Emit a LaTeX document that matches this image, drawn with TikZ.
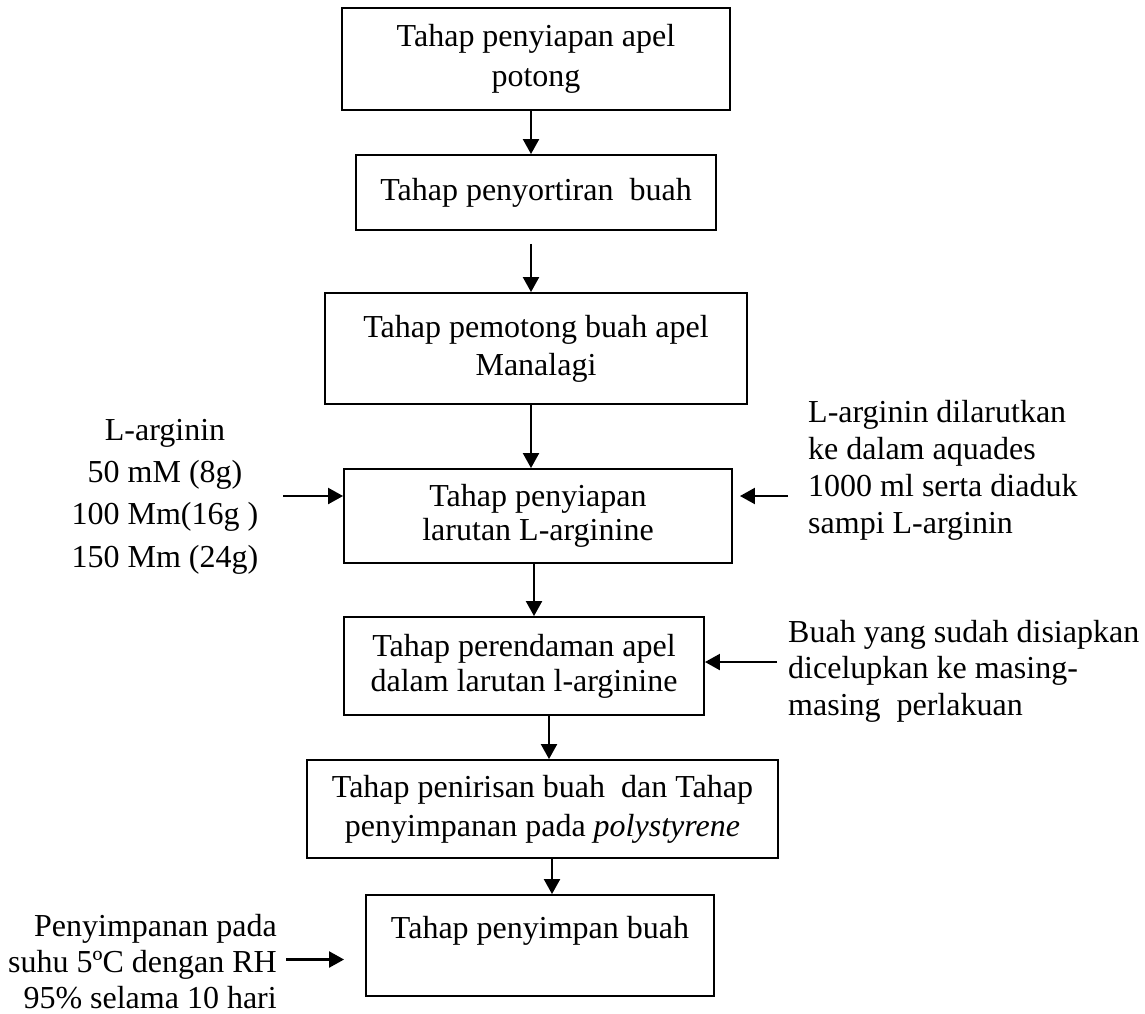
\documentclass[tikz,border=0pt]{standalone}
\usepackage{fontspec}
\setmainfont{Liberation Serif}
\usetikzlibrary{arrows.meta}
\begin{document}
\begin{tikzpicture}[x=1pt,y=-1pt,
  box/.style={draw,line width=1.9pt,inner sep=0pt,align=center},
  arr/.style={line width=2.2pt,-{Triangle[length=15pt,width=16pt]}},
  lbl/.style={inner sep=0pt}]
\useasboundingbox (0,0) rectangle (1145,1013);
% boxes
\node[box,minimum width=388pt,minimum height=102pt,font=\fontsize{32}{40}\selectfont] (b1) at (536,59) {Tahap penyiapan apel\\potong};
\node[box,minimum width=360pt,minimum height=75pt,font=\fontsize{32}{38}\selectfont] (b2) at (536,192.5) {Tahap penyortiran~ buah};
\node[box,minimum width=422pt,minimum height=111pt,font=\fontsize{32}{38}\selectfont] (b3) at (536,348.5) {Tahap pemotong buah apel\\Manalagi};
\node[box,minimum width=388pt,minimum height=94pt,font=\fontsize{32}{34}\selectfont] (b4) at (538,516) {Tahap penyiapan\\larutan L-arginine};
\node[box,minimum width=360pt,minimum height=98pt,font=\fontsize{32}{35}\selectfont] (b5) at (524,666) {Tahap perendaman apel\\dalam larutan l-arginine};
\node[box,minimum width=471pt,minimum height=98pt,font=\fontsize{32}{39}\selectfont] (b6) at (542.5,809) {Tahap penirisan buah~ dan Tahap\\penyimpanan pada \textit{polystyrene}};
\node[box,minimum width=348pt,minimum height=101pt,font=\fontsize{32}{37}\selectfont] (b7) at (540,945.5) {Tahap penyimpan buah\\~};
% side texts (base anchor = last line baseline)
\node[lbl,anchor=base,align=center,font=\fontsize{32}{42.3}\selectfont] (l1) at (165,567) {L-arginin\\50 mM (8g)\\100 Mm(16g )\\150 Mm (24g)};
\node[lbl,anchor=base west,align=left,font=\fontsize{32}{36.7}\selectfont] (r1) at (808,533) {L-arginin dilarutkan\\ke dalam aquades\\1000 ml serta diaduk\\sampi L-arginin};
\node[lbl,anchor=base west,align=left,font=\fontsize{32}{36.5}\selectfont] (r2) at (788,715) {Buah yang sudah disiapkan\\dicelupkan ke masing-\\masing~ perlakuan};
\node[lbl,anchor=base east,align=right,font=\fontsize{32}{35.7}\selectfont] (l2) at (277,1008) {Penyimpanan pada\\suhu 5ºC dengan RH\\95\% selama 10 hari};
% arrow tails
\coordinate (t1) at (283,496);
\coordinate (t2) at (788,496);
\coordinate (t3) at (777,662);
\coordinate (t4) at (286,959.5);
% vertical arrows
\draw[arr] ([xshift=-5pt]b1.south) -- ([xshift=-5pt]b2.north);
\draw[arr] ([xshift=-5pt,yshift=-13pt]b2.south) -- ([xshift=-5pt]b3.north);
\draw[arr] ([xshift=-5pt]b3.south) -- ([xshift=-7pt]b4.north);
\draw[arr] ([xshift=-4pt]b4.south) -- ([xshift=10pt]b5.north);
\draw[arr] ([xshift=25pt]b5.south) -- ([xshift=6.5pt]b6.north);
\draw[arr] ([xshift=9.5pt]b6.south) -- ([xshift=12pt]b7.north);
% side arrows
\draw[arr] (t1) -- ([yshift=20pt]b4.west);
\draw[arr] (t2) -- ([xshift=7pt,yshift=20pt]b4.east);
\draw[arr] (t3) -- ([yshift=4pt]b5.east);
\draw[arr] (t4) -- ([xshift=-21pt,yshift=-14pt]b7.west);
\end{tikzpicture}
\end{document}
